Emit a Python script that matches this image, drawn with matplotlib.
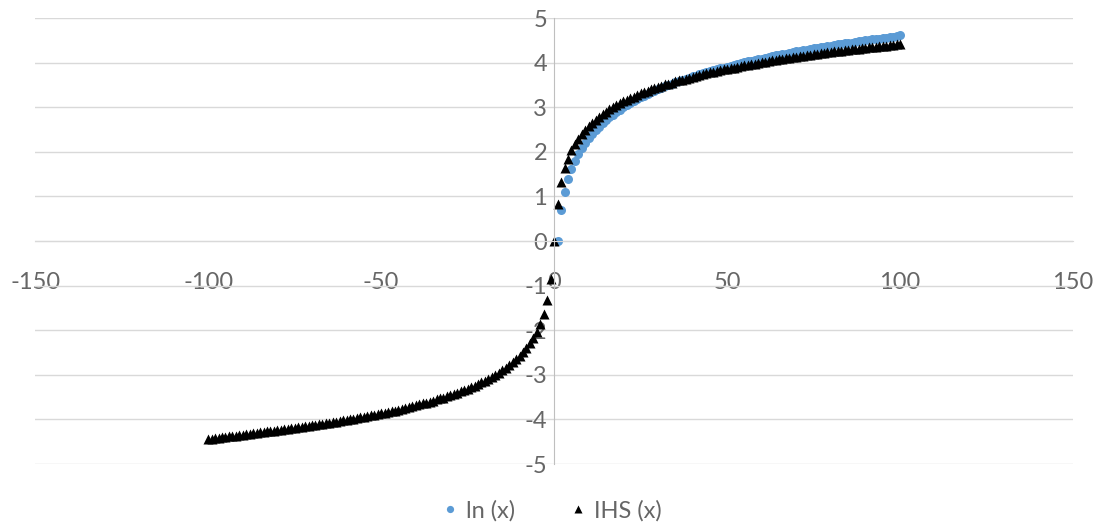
import matplotlib.pyplot as plt

# x positions
ln_x = list(range(1, 101))
ihs_x = list(range(-100, 101))

# ln(x), x = 1..100
ln_y = [0.00, 0.69, 1.10, 1.39, 1.61, 1.79, 1.95, 2.08, 2.20, 2.30,
        2.40, 2.48, 2.56, 2.64, 2.71, 2.77, 2.83, 2.89, 2.94, 3.00,
        3.04, 3.09, 3.14, 3.18, 3.22, 3.26, 3.30, 3.33, 3.37, 3.40,
        3.43, 3.47, 3.50, 3.53, 3.56, 3.58, 3.61, 3.64, 3.66, 3.69,
        3.71, 3.74, 3.76, 3.78, 3.81, 3.83, 3.85, 3.87, 3.89, 3.91,
        3.93, 3.95, 3.97, 3.99, 4.01, 4.03, 4.04, 4.06, 4.08, 4.09,
        4.11, 4.13, 4.14, 4.16, 4.17, 4.19, 4.20, 4.22, 4.23, 4.25,
        4.26, 4.28, 4.29, 4.30, 4.32, 4.33, 4.34, 4.36, 4.37, 4.38,
        4.39, 4.41, 4.42, 4.43, 4.44, 4.45, 4.47, 4.48, 4.49, 4.50,
        4.51, 4.52, 4.53, 4.54, 4.55, 4.56, 4.57, 4.58, 4.60, 4.61]

# IHS(x), x = -100..100
ihs_y = [-4.44, -4.43, -4.42, -4.41, -4.40, -4.39, -4.38, -4.37, -4.36, -4.35,
         -4.34, -4.33, -4.32, -4.31, -4.30, -4.29, -4.28, -4.27, -4.26, -4.25,
         -4.24, -4.23, -4.22, -4.21, -4.20, -4.19, -4.18, -4.17, -4.15, -4.14,
         -4.13, -4.12, -4.11, -4.10, -4.08, -4.07, -4.06, -4.05, -4.03, -4.02,
         -4.01, -4.00, -3.98, -3.97, -3.95, -3.94, -3.92, -3.91, -3.89, -3.88,
         -3.86, -3.85, -3.83, -3.81, -3.80, -3.78, -3.76, -3.74, -3.72, -3.70,
         -3.68, -3.66, -3.64, -3.62, -3.60, -3.58, -3.55, -3.53, -3.51, -3.48,
         -3.45, -3.43, -3.40, -3.37, -3.34, -3.31, -3.28, -3.24, -3.21, -3.17,
         -3.13, -3.09, -3.05, -3.00, -2.95, -2.90, -2.85, -2.79, -2.72, -2.65,
         -2.58, -2.49, -2.40, -2.29, -2.17, -2.03, -1.85, -1.63, -1.32, -0.84,
         0.00,
         0.84, 1.32, 1.63, 1.85, 2.03, 2.17, 2.29, 2.40, 2.49, 2.58,
         2.65, 2.72, 2.79, 2.85, 2.90, 2.95, 3.00, 3.05, 3.09, 3.13,
         3.17, 3.21, 3.24, 3.28, 3.31, 3.34, 3.37, 3.40, 3.43, 3.45,
         3.48, 3.51, 3.53, 3.55, 3.58, 3.60, 3.62, 3.64, 3.66, 3.68,
         3.70, 3.72, 3.74, 3.76, 3.78, 3.80, 3.81, 3.83, 3.85, 3.86,
         3.88, 3.89, 3.91, 3.92, 3.94, 3.95, 3.97, 3.98, 4.00, 4.01,
         4.02, 4.03, 4.05, 4.06, 4.07, 4.08, 4.10, 4.11, 4.12, 4.13,
         4.14, 4.15, 4.17, 4.18, 4.19, 4.20, 4.21, 4.22, 4.23, 4.24,
         4.25, 4.26, 4.27, 4.28, 4.29, 4.30, 4.31, 4.31, 4.32, 4.33,
         4.34, 4.35, 4.36, 4.37, 4.38, 4.38, 4.39, 4.40, 4.41, 4.42]

x_ticks = [-150, -100, -50, 0, 50, 100, 150]
y_ticks = [-5, -4, -3, -2, -1, 0, 1, 2, 3, 4, 5]

plt.rcParams['font.family'] = ['Lato', 'DejaVu Sans']
plt.rcParams['axes.unicode_minus'] = False
text_col = '#666666'

fig = plt.figure(figsize=(11, 5.22), dpi=100)
ax = fig.add_axes([0.032, 0.111, 0.9435, 0.8545])

ax.plot(ln_x, ln_y, 'o', color='#5B9BD5', ms=6.5, mec='none', label='ln (x)')
ax.plot(ihs_x, ihs_y, '^', color='black', ms=6.5, mec='none', label='IHS (x)')

ax.set_xlim(-150, 150)
ax.set_ylim(-5, 5)
ax.set_xticks(x_ticks)
ax.set_yticks(y_ticks)

# excel style: axes cross at zero
ax.spines['left'].set_position(('data', 0))
ax.spines['bottom'].set_position(('data', 0))
ax.spines['left'].set_color('#BFBFBF')
ax.spines['bottom'].set_color('#D9D9D9')
ax.spines['top'].set_visible(False)
ax.spines['right'].set_visible(False)
ax.set_axisbelow(True)
ax.yaxis.grid(True, color='#D9D9D9', lw=1)

ax.tick_params(axis='x', length=0, pad=22, labelsize=17, labelcolor=text_col)
ax.tick_params(axis='y', length=0, pad=5, labelsize=17, labelcolor=text_col)

fig.legend(loc='lower center', bbox_to_anchor=(0.5, -0.04), ncol=2, frameon=False,
           fontsize=17, labelcolor=text_col, markerscale=0.8,
           handletextpad=0.15, columnspacing=2.2, handlelength=1.0)

plt.savefig('out.png')
